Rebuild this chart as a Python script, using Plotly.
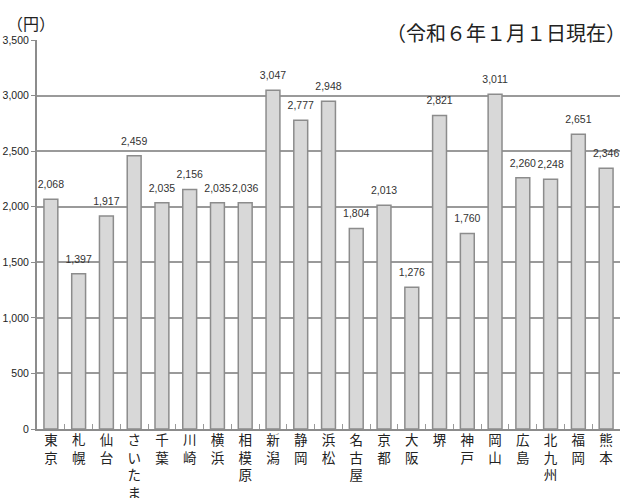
import plotly.graph_objects as go

cities = ["東京", "札幌", "仙台", "さいたま", "千葉", "川崎", "横浜", "相模原", "新潟", "静岡",
          "浜松", "名古屋", "京都", "大阪", "堺", "神戸", "岡山", "広島", "北九州", "福岡", "熊本"]
values = [2068, 1397, 1917, 2459, 2035, 2156, 2035, 2036, 3047, 2777,
          2948, 1804, 2013, 1276, 2821, 1760, 3011, 2260, 2248, 2651, 2346]
y_ticks = [0, 500, 1000, 1500, 2000, 2500, 3000, 3500]

tick_text = ["<br>".join(list(c)) for c in cities]

NUM_FONT = "Liberation Sans, Arial, Noto Sans CJK JP, sans-serif"
JP_FONT = "Noto Sans CJK JP, sans-serif"

fig = go.Figure()
fig.add_trace(go.Bar(
    x=cities,
    y=values,
    marker=dict(color="#d8d8d8", line=dict(color="#8c8c8c", width=1.5)),
    width=0.5,
    hoverinfo="x+y",
))
fig.add_trace(go.Scatter(
    x=cities,
    y=values,
    mode="markers+text",
    marker=dict(size=12, opacity=0),
    text=[f"{v:,}" for v in values],
    textposition="top center",
    textfont=dict(family=NUM_FONT, size=10.5, color="#333333"),
    cliponaxis=False,
    hoverinfo="skip",
))

fig.update_layout(
    width=620, height=498,
    margin=dict(l=37, r=0, t=40, b=69, pad=0, autoexpand=False),
    paper_bgcolor="white",
    plot_bgcolor="white",
    showlegend=False,
    xaxis=dict(
        type="category",
        tickvals=cities,
        ticktext=tick_text,
        tickfont=dict(family=JP_FONT, size=13.5, color="#222222"),
        showline=True, linecolor="#8c8c8c", linewidth=2,
        ticks="inside", tickson="boundaries", ticklen=5, tickcolor="#9a9a9a", tickwidth=1,
        showgrid=False,
        automargin=False,
        ticklabelstandoff=-2,
        range=[-0.5, len(cities) - 0.5],
        fixedrange=True,
    ),
    yaxis=dict(
        range=[0, 3500],
        tickvals=y_ticks,
        tickformat=",",
        tickfont=dict(family=NUM_FONT, size=10.5, color="#222222"),
        showline=True, linecolor="#8c8c8c", linewidth=2,
        ticks="outside", ticklen=4, tickcolor="#8c8c8c",
        showgrid=True, gridcolor="#9a9a9a", gridwidth=1.5,
        zeroline=False,
        automargin=False,
        fixedrange=True,
    ),
    annotations=[
        dict(text="（円）", xref="paper", yref="paper", x=-32 / 583, y=1 + 31 / 389,
             xanchor="left", yanchor="top", showarrow=False,
             font=dict(family=JP_FONT, size=16, color="#222222")),
        dict(text="（令和６年１月１日現在）", xref="paper", yref="paper", x=1.014, y=1 + 8 / 389,
             xanchor="right", yanchor="middle", showarrow=False, bgcolor="white",
             font=dict(family=JP_FONT, size=20, color="#222222")),
    ],
)

fig.write_html("out.html", config={"displayModeBar": False},
               post_script="document.body.style.margin='0px';")
